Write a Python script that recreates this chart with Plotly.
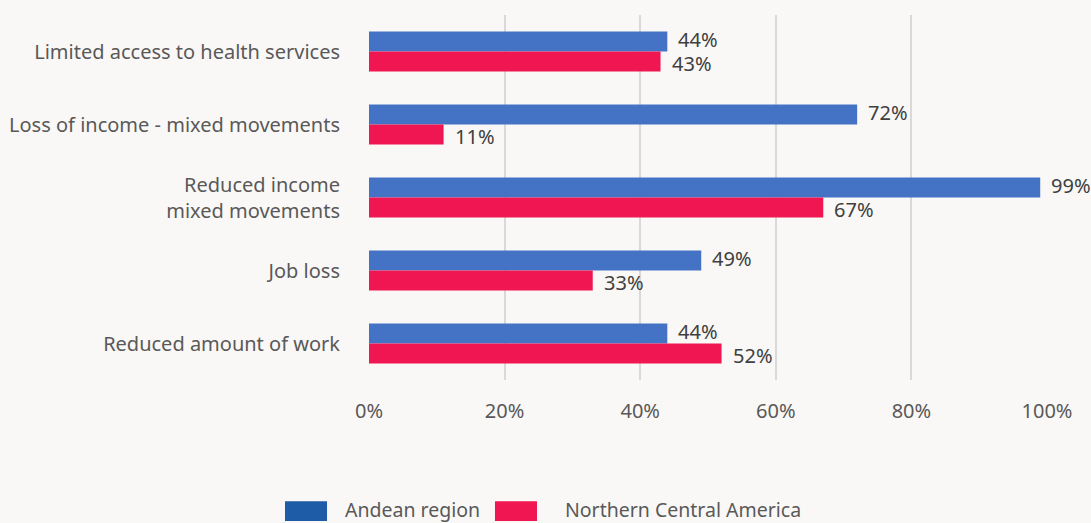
import plotly.graph_objects as go

categories = ["Limited access to health services", "Loss of income - mixed movements",
              "Reduced income<br>mixed movements", "Job loss", "Reduced amount of work"]
andean = [44, 72, 99, 49, 44]
nca = [43, 11, 67, 33, 52]
tick_vals = [0, 20, 40, 60, 80, 100]
tick_text = ["0%", "20%", "40%", "60%", "80%", "100%"]
series_names = ["Andean region", "Northern Central America"]

BLUE_BAR = "#4472C4"
RED_BAR = "#EF1651"
BLUE_LEG = "#1F5CA8"
RED_LEG = "#EF1651"
BG = "#F9F8F6"
TXT = "#595959"

fig = go.Figure()
fig.add_trace(go.Bar(y=categories, x=andean, orientation="h", marker=dict(color=BLUE_BAR, line=dict(width=0)),
                     showlegend=False, name=series_names[0]))
fig.add_trace(go.Bar(y=categories, x=nca, orientation="h", marker=dict(color=RED_BAR, line=dict(width=0)),
                     showlegend=False, name=series_names[1]))

label_font = dict(family="Noto Sans", size=20, color="#404040")
for cat, v in zip(categories, andean):
    fig.add_annotation(x=v, y=cat, text=f"{v}%", showarrow=False, xanchor="left", yanchor="middle",
                       xshift=9, yshift=12, font=label_font)
for cat, v in zip(categories, nca):
    fig.add_annotation(x=v, y=cat, text=f"{v}%", showarrow=False, xanchor="left", yanchor="middle",
                       xshift=9, yshift=-12, font=label_font)

# custom legend (swatches + labels)
leg_font = dict(family="Noto Sans", size=19.5, color=TXT)
legend_items = [(series_names[0], BLUE_LEG, -0.1239, -0.0619, -0.0383),
                (series_names[1], RED_LEG, 0.1858, 0.2478, 0.2861)]
for name, col, x0, x1, xt in legend_items:
    fig.add_shape(type="rect", xref="paper", yref="paper", x0=x0, x1=x1, y0=-0.386, y1=-0.332,
                  fillcolor=col, line=dict(width=0))
    fig.add_annotation(xref="paper", yref="paper", x=xt, y=-0.354, text=name, showarrow=False,
                       xanchor="left", yanchor="middle", font=leg_font)

fig.update_layout(
    width=1091, height=523,
    paper_bgcolor=BG, plot_bgcolor=BG,
    margin=dict(l=369, r=44, t=15, b=143),
    barmode="group", bargap=0.45, bargroupgap=0,
    font=dict(family="Noto Sans", color=TXT),
    showlegend=False,
    xaxis=dict(range=[0, 100], tickvals=tick_vals, ticktext=tick_text, showgrid=True,
               gridcolor="#D9D9D9", gridwidth=2, zeroline=False, showline=False, automargin=False,
               tickfont=dict(family="Noto Sans", size=20, color=TXT), ticklabelstandoff=17),
    yaxis=dict(autorange="reversed", showgrid=False, zeroline=False, showline=False, automargin=False,
               tickfont=dict(family="Noto Sans", size=20, color=TXT), ticklabelstandoff=28),
)
fig.write_html("out.html", config={"displayModeBar": False},
               post_script="document.body.style.margin='0';document.body.style.background='#F9F8F6';")
